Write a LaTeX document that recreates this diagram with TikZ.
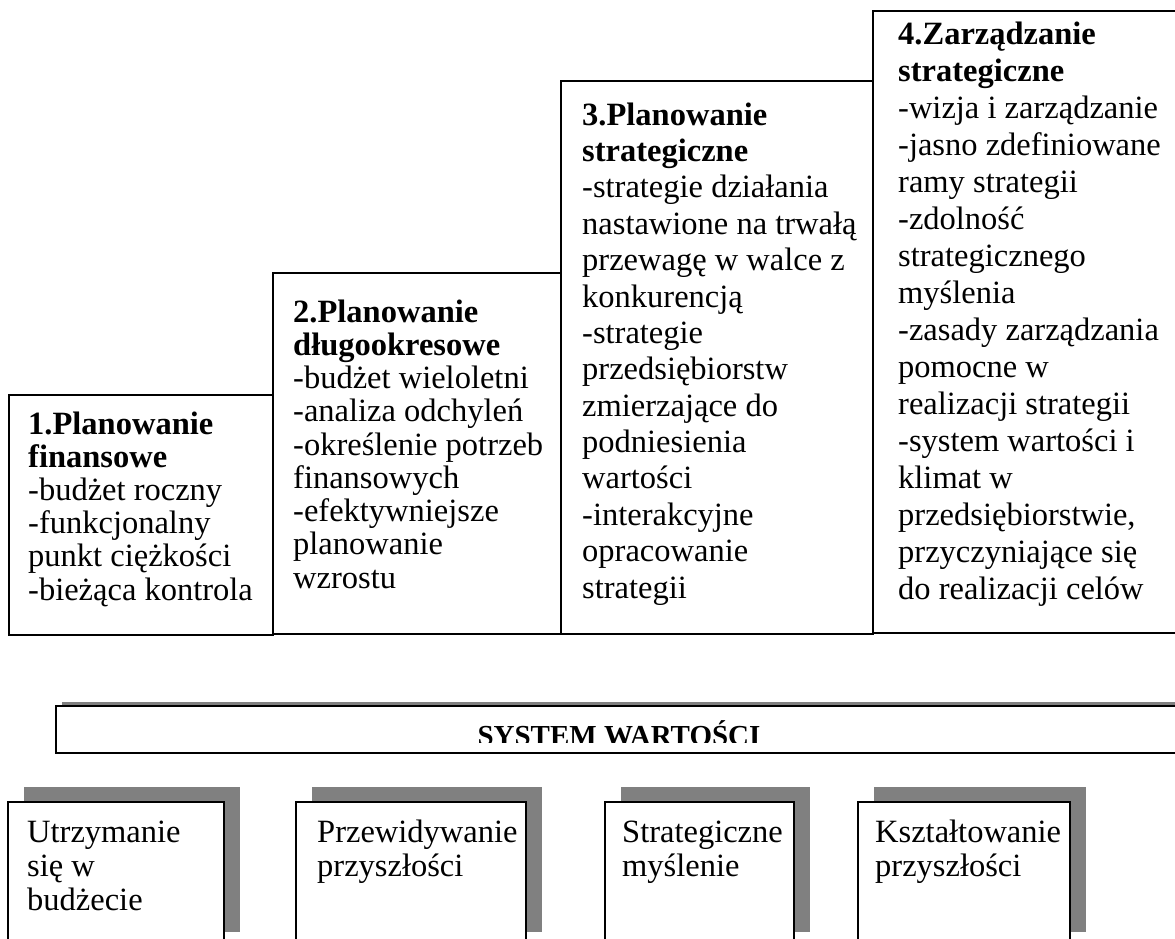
\documentclass[tikz,border=0pt]{standalone}
\usepackage{fontspec}
\setmainfont{Liberation Serif}
\usetikzlibrary{shadows}
\definecolor{shadowgray}{RGB}{128,128,128}
% a block of explicitly broken lines, baseline = first line
\newcommand\stagelines[2]{\parbox[t]{300pt}{\fontsize{32.5}{#1}\selectfont\lineskiplimit=-100pt\lineskip=0pt #2}}
\begin{document}
\begin{tikzpicture}[x=1pt,y=-1pt,
  frame/.style={draw=black,line width=2pt,fill=white,inner sep=0pt,anchor=north west},
  txt/.style={inner sep=0pt,anchor=base west},
  cardshadow/.style={drop shadow={shadow xshift=16pt,shadow yshift=15pt,fill=shadowgray,opacity=1}},
  barshadow/.style={drop shadow={shadow xshift=6pt,shadow yshift=4pt,fill=shadowgray,opacity=1}}]
\useasboundingbox (0,0) rectangle (1175,939);
\clip (0,0) rectangle (1175,939);

% ---- four planning stages, rising to the right ----
\node[frame,minimum width=264pt,minimum height=240pt] (s1) at (8,394) {};
\node[frame,minimum width=288pt,minimum height=361pt] (s2) at (272,272) {};
\node[frame,minimum width=312pt,minimum height=553pt] (s3) at (560,80) {};
\node[frame,minimum width=330pt,minimum height=622pt] (s4) at (872,10) {};

\node[txt] (t1) at (28,434) {\stagelines{33.2}{\textbf{1.Planowanie}\\\textbf{finansowe}\\-budżet roczny\\-funkcjonalny\\punkt ciężkości\\-bieżąca kontrola}};
\node[txt] (t2) at (293,322) {\stagelines{33.25}{\textbf{2.Planowanie}\\\textbf{długookresowe}\\-budżet wieloletni\\-analiza odchyleń\\-określenie potrzeb\\finansowych\\-efektywniejsze\\planowanie\\wzrostu}};
\node[txt] (t3) at (582,125) {\stagelines{36.4}{\textbf{3.Planowanie}\\\textbf{strategiczne}\\-strategie działania\\nastawione na trwałą\\przewagę w walce z\\konkurencją\\-strategie\\przedsiębiorstw\\zmierzające do\\podniesienia\\wartości\\-interakcyjne\\opracowanie\\strategii}};
\node[txt] (t4) at (898,45) {\stagelines{37}{\textbf{4.Zarządzanie}\\\textbf{strategiczne}\\-wizja i zarządzanie\\-jasno zdefiniowane\\ramy strategii\\-zdolność\\strategicznego\\myślenia\\-zasady zarządzania\\pomocne w\\realizacji strategii\\-system wartości i\\klimat w\\przedsiębiorstwie,\\przyczyniające się\\do realizacji celów}};

% ---- value system bar ----
\node[frame,barshadow,minimum width=1150pt,minimum height=47pt] (bar) at (55,705) {};
\begin{scope}
  \clip (bar.north west) rectangle (1175,742);
  \node[inner sep=0pt,anchor=base,font=\fontsize{29}{30}\selectfont\bfseries] (sw) at (619,745) {SYSTEM WARTOŚCI};
\end{scope}

% ---- four attitude cards ----
\node[frame,cardshadow,minimum width=216pt,minimum height=145pt] (c1) at (7,801) {};
\node[frame,cardshadow,minimum width=230pt,minimum height=145pt] (c2) at (295,801) {};
\node[frame,cardshadow,minimum width=189pt,minimum height=145pt] (c3) at (604,801) {};
\node[frame,cardshadow,minimum width=212pt,minimum height=145pt] (c4) at (857,801) {};

\node[txt] (u1) at (27,842) {\stagelines{34}{Utrzymanie\\się w\\budżecie}};
\node[txt] (u2) at (317,842) {\stagelines{34}{Przewidywanie\\przyszłości}};
\node[txt] (u3) at (622,842) {\stagelines{34}{Strategiczne\\myślenie}};
\node[txt] (u4) at (875,842) {\stagelines{34}{Kształtowanie\\przyszłości}};
\end{tikzpicture}
\end{document}
